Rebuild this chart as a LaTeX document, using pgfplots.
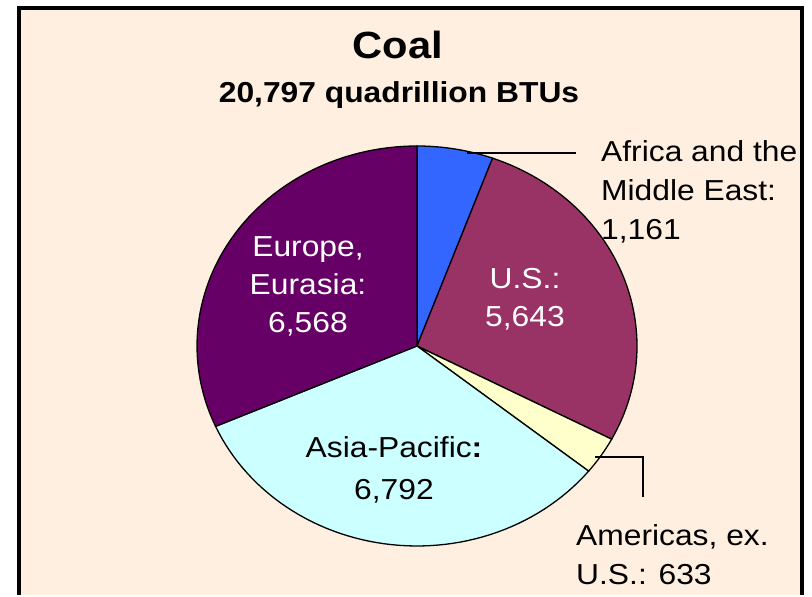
\documentclass[border=0pt]{standalone}
\usepackage{pgfplots}
\pgfplotsset{compat=1.18}
\usepackage{graphicx}
\usepackage{fontspec}
\setmainfont{Liberation Sans}
\definecolor{bgpeach}{RGB}{255,239,224}
\definecolor{cAf}{HTML}{3366FF}
\definecolor{cUS}{HTML}{993366}
\definecolor{cAm}{HTML}{FFFFCC}
\definecolor{cAP}{HTML}{CCFFFF}
\definecolor{cEu}{HTML}{660066}
\newcommand\lbl[2]{\scalebox{1.1}[1]{\begin{tabular}[t]{@{}#1@{}}#2\end{tabular}}}
\begin{document}
\begin{tikzpicture}
% values (quadrillion BTUs)
\def\vAf{1161}\def\vUS{5643}\def\vAm{633}\def\vAP{6792}\def\vEu{6568}
\pgfmathsetmacro\tot{\vAf/1000+\vUS/1000+\vAm/1000+\vAP/1000+\vEu/1000}
\pgfmathsetmacro\aA{90-360*(\vAf/1000/\tot)}
\pgfmathsetmacro\aB{\aA-360*(\vUS/1000/\tot)}
\pgfmathsetmacro\aC{\aB-360*(\vAm/1000/\tot)}
\pgfmathsetmacro\aD{\aC-360*(\vAP/1000/\tot)}
\pgfmathsetmacro\aE{\aD-360*(\vEu/1000/\tot)}
\begin{axis}[width=812bp,height=595bp,scale only axis,
  xmin=0,xmax=812,ymin=0,ymax=595,hide axis,clip=false]
\path (axis cs:0,0) rectangle (axis cs:812,595);
\fill[bgpeach] (axis cs:19,0) rectangle (axis cs:801.5,586.5);
\draw[line width=4bp,line join=miter,line cap=butt] (axis cs:19,0) -- (axis cs:19,586.5) -- (axis cs:801.5,586.5) -- (axis cs:801.5,0);
\pgfplotsset{every axis plot/.append style={draw=black,line width=1.3bp,samples=60,variable=\t}}
\addplot[fill=cAf,domain=\aA:90] ({417+220*cos(\t)},{249+200*sin(\t)}) -- (axis cs:417,249) -- cycle;
\addplot[fill=cUS,domain=\aB:\aA] ({417+220*cos(\t)},{249+200*sin(\t)}) -- (axis cs:417,249) -- cycle;
\addplot[fill=cAm,domain=\aC:\aB] ({417+220*cos(\t)},{249+200*sin(\t)}) -- (axis cs:417,249) -- cycle;
\addplot[fill=cAP,domain=\aD:\aC] ({417+220*cos(\t)},{249+200*sin(\t)}) -- (axis cs:417,249) -- cycle;
\addplot[fill=cEu,domain=\aE:\aD] ({417+220*cos(\t)},{249+200*sin(\t)}) -- (axis cs:417,249) -- cycle;
% titles
\node[anchor=base,inner sep=0,font=\fontsize{38}{40}\selectfont\bfseries] at (axis cs:398,536) {\scalebox{1.1}[1]{Coal}};
\node[anchor=base,inner sep=0,font=\fontsize{29}{34}\selectfont\bfseries] at (axis cs:399,492) {\scalebox{1.1}[1]{20,797 quadrillion BTUs}};
% labels
\node[anchor=base west,inner sep=0,font=\fontsize{29}{39}\selectfont] at (axis cs:601,433) {\lbl{l}{Africa and the\\Middle East:\\1,161}};
\node[anchor=base,inner sep=0,text=white,font=\fontsize{29}{38}\selectfont] at (axis cs:308,338) {\lbl{c}{Europe,\\Eurasia:\\6,568}};
\node[anchor=base,inner sep=0,text=white,font=\fontsize{29}{38}\selectfont] at (axis cs:525,306) {\lbl{c}{U.S.:\\5,643}};
\node[anchor=base,inner sep=0,font=\fontsize{29}{42}\selectfont] at (axis cs:394,137) {\lbl{c}{Asia-Pacific\textbf{:}\\6,792}};
\node[anchor=base west,inner sep=0,font=\fontsize{29}{39}\selectfont] at (axis cs:576,49) {\lbl{l}{Americas, ex.\\U.S.: 633}};
% leader lines
\draw[line width=2bp] (axis cs:467,442) -- (axis cs:576,442);
\draw[line width=2bp] (axis cs:595,138) -- (axis cs:643,138) -- (axis cs:643,98);
\end{axis}
\end{tikzpicture}
\end{document}
